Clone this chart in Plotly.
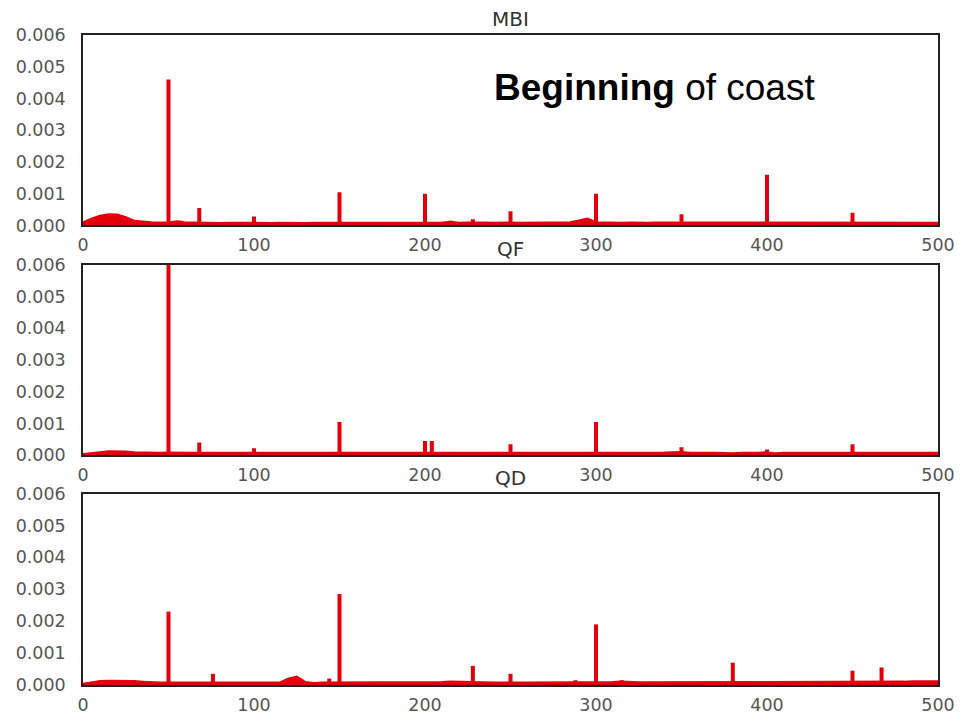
import plotly.graph_objects as go

# ---------------- data ----------------
BASE_X = list(range(0, 501, 5))

BASE_MBI = [8e-5, 20e-5, 29e-5, 34e-5, 33e-5, 25e-5, 13e-5, 10e-5, 9e-5, 8e-5,
            8e-5, 12e-5, 8e-5, 8e-5, 7e-5, 7e-5, 6e-5, 7e-5, 6e-5, 7e-5,
            7e-5, 6e-5, 6e-5, 7e-5, 6e-5, 7e-5, 6e-5, 7e-5, 7e-5, 7e-5,
            8e-5, 7e-5, 6e-5, 6e-5, 7e-5, 7e-5, 6e-5, 7e-5, 7e-5, 8e-5,
            8e-5, 7e-5, 8e-5, 10e-5, 7e-5, 8e-5, 9e-5, 8e-5, 7e-5, 8e-5,
            8e-5, 7e-5, 7e-5, 7e-5, 8e-5, 8e-5, 8e-5, 9e-5, 14e-5, 20e-5,
            9e-5, 8e-5, 8e-5, 7e-5, 8e-5, 7e-5, 7e-5, 8e-5, 8e-5, 7e-5,
            8e-5, 7e-5, 7e-5, 8e-5, 7e-5, 7e-5, 8e-5, 8e-5, 7e-5, 7e-5,
            8e-5, 7e-5, 8e-5, 7e-5, 7e-5, 8e-5, 8e-5, 7e-5, 8e-5, 7e-5,
            8e-5, 7e-5, 8e-5, 7e-5, 7e-5, 8e-5, 7e-5, 8e-5, 7e-5, 8e-5,
            7e-5]

BASE_QF = [2e-5, 4e-5, 8e-5, 11e-5, 11e-5, 10e-5, 8e-5, 7e-5, 6e-5, 6e-5,
           7e-5, 6e-5, 6e-5, 6e-5, 6e-5, 5e-5, 6e-5, 6e-5, 6e-5, 6e-5,
           7e-5, 6e-5, 6e-5, 5e-5, 6e-5, 6e-5, 6e-5, 7e-5, 6e-5, 7e-5,
           7e-5, 6e-5, 6e-5, 5e-5, 5e-5, 5e-5, 5e-5, 5e-5, 5e-5, 6e-5,
           6e-5, 6e-5, 5e-5, 5e-5, 5e-5, 5e-5, 5e-5, 5e-5, 5e-5, 5e-5,
           6e-5, 5e-5, 5e-5, 5e-5, 5e-5, 5e-5, 5e-5, 6e-5, 5e-5, 6e-5,
           6e-5, 5e-5, 5e-5, 5e-5, 6e-5, 6e-5, 7e-5, 6e-5, 7e-5, 8e-5,
           9e-5, 6e-5, 5e-5, 6e-5, 6e-5, 5e-5, 5e-5, 6e-5, 5e-5, 6e-5,
           8e-5, 5e-5, 6e-5, 5e-5, 6e-5, 6e-5, 5e-5, 6e-5, 6e-5, 6e-5,
           7e-5, 6e-5, 6e-5, 6e-5, 7e-5, 6e-5, 7e-5, 6e-5, 6e-5, 6e-5,
           6e-5]

BASE_QD = [2e-5, 6e-5, 11e-5, 12e-5, 12e-5, 12e-5, 11e-5, 9e-5, 7e-5, 6e-5,
           6e-5, 6e-5, 5e-5, 5e-5, 5e-5, 5e-5, 5e-5, 5e-5, 5e-5, 5e-5,
           5e-5, 5e-5, 5e-5, 6e-5, 18e-5, 25e-5, 8e-5, 5e-5, 6e-5, 6e-5,
           6e-5, 6e-5, 7e-5, 7e-5, 7e-5, 6e-5, 7e-5, 7e-5, 6e-5, 7e-5,
           8e-5, 7e-5, 8e-5, 9e-5, 8e-5, 8e-5, 7e-5, 6e-5, 6e-5, 6e-5,
           7e-5, 6e-5, 6e-5, 6e-5, 7e-5, 7e-5, 7e-5, 8e-5, 7e-5, 7e-5,
           7e-5, 7e-5, 8e-5, 9e-5, 7e-5, 7e-5, 7e-5, 7e-5, 7e-5, 7e-5,
           8e-5, 8e-5, 7e-5, 8e-5, 7e-5, 7e-5, 7e-5, 7e-5, 8e-5, 8e-5,
           9e-5, 8e-5, 7e-5, 8e-5, 8e-5, 8e-5, 8e-5, 8e-5, 9e-5, 8e-5,
           8e-5, 8e-5, 9e-5, 9e-5, 9e-5, 9e-5, 9e-5, 10e-5, 10e-5, 10e-5,
           10e-5]

PEAK_X_MBI = [50, 57, 68, 100, 150, 200, 215, 228, 250, 300, 350, 400, 450]
PEAK_Y_MBI = [0.0046, 0.00015, 0.00055, 0.00028, 0.00105, 0.001, 0.00015,
              0.0002, 0.00045, 0.001, 0.00035, 0.0016, 0.0004]

PEAK_X_QF = [50, 68, 100, 150, 200, 204, 250, 300, 350, 400, 450]
PEAK_Y_QF = [0.006, 0.0004, 0.00022, 0.00105, 0.00045, 0.00045, 0.00035,
             0.00105, 0.00025, 0.00018, 0.00035]

PEAK_X_QD = [50, 76, 144, 150, 228, 250, 288, 300, 315, 380, 400, 450, 467]
PEAK_Y_QD = [0.0023, 0.00035, 0.0002, 0.00285, 0.0006, 0.00035, 0.00015,
             0.0019, 0.00015, 0.0007, 0.00012, 0.00045, 0.00055]

TITLES = ["MBI", "QF", "QD"]
Y_TICKS = [0.0, 0.001, 0.002, 0.003, 0.004, 0.005, 0.006]
X_TICKS = [0, 100, 200, 300, 400, 500]

# ---------------- figure ----------------
panels = [
    (BASE_MBI, PEAK_X_MBI, PEAK_Y_MBI),
    (BASE_QF, PEAK_X_QF, PEAK_Y_QF),
    (BASE_QD, PEAK_X_QD, PEAK_Y_QD),
]

W, H = 967, 727
ML, MR, MT, MB = 83, 28, 35, 30
plot_h = H - MT - MB
panel_px = [(35, 229), (269, 463), (502, 697)]

fig = go.Figure()
RED = "#e3000a"
TICK_FONT = dict(family="DejaVu Sans", size=17.5, color="#555555")

for i, (base, px, py) in enumerate(panels):
    n = i + 1
    xa = "x" if n == 1 else f"x{n}"
    ya = "y" if n == 1 else f"y{n}"
    fig.add_trace(go.Scatter(
        x=BASE_X, y=base, mode="lines", fill="tozeroy",
        line=dict(color=RED, width=3), fillcolor=RED,
        xaxis=xa, yaxis=ya, showlegend=False, hoverinfo="skip"))
    sx, sy = [], []
    for xv, yv in zip(px, py):
        sx += [xv, xv, None]
        sy += [0, yv, None]
    fig.add_trace(go.Scatter(
        x=sx, y=sy, mode="lines", line=dict(color=RED, width=4),
        xaxis=xa, yaxis=ya, showlegend=False, hoverinfo="skip"))

    top, bot = panel_px[i]
    dom = [(H - MB - bot) / plot_h, (H - MB - top) / plot_h]
    axis_common = dict(showgrid=False, zeroline=False, showline=True,
                       linecolor="#222222", linewidth=1.5, mirror=True,
                       ticks="outside", tickcolor="rgba(0,0,0,0)",
                       tickfont=TICK_FONT)
    fig.layout[f"xaxis{'' if n == 1 else n}"] = dict(
        axis_common, domain=[0, 1], range=[0, 500], tickvals=X_TICKS,
        ticklen=3, anchor=ya)
    fig.layout[f"yaxis{'' if n == 1 else n}"] = dict(
        axis_common, domain=dom, range=[0, 0.006], tickvals=Y_TICKS,
        tickformat=".3f", ticklen=12, anchor=xa)

    fig.add_annotation(
        x=0.5, y=dom[1], xref="paper", yref="paper", text=TITLES[i],
        showarrow=False, xanchor="center", yanchor="bottom", yshift=2,
        font=dict(family="DejaVu Sans", size=20, color="#333333"))

fig.add_annotation(
    x=(492 - ML) / (W - ML - MR), y=(H - MB - 88) / plot_h,
    xref="paper", yref="paper", xanchor="left", yanchor="middle",
    text="<b>Beginning</b> of coast", showarrow=False,
    font=dict(family="Liberation Sans", size=37, color="#000000"))

fig.update_layout(
    width=W, height=H,
    margin=dict(l=ML, r=MR, t=MT, b=MB),
    plot_bgcolor="white", paper_bgcolor="white",
)

fig.write_html("out.html")
